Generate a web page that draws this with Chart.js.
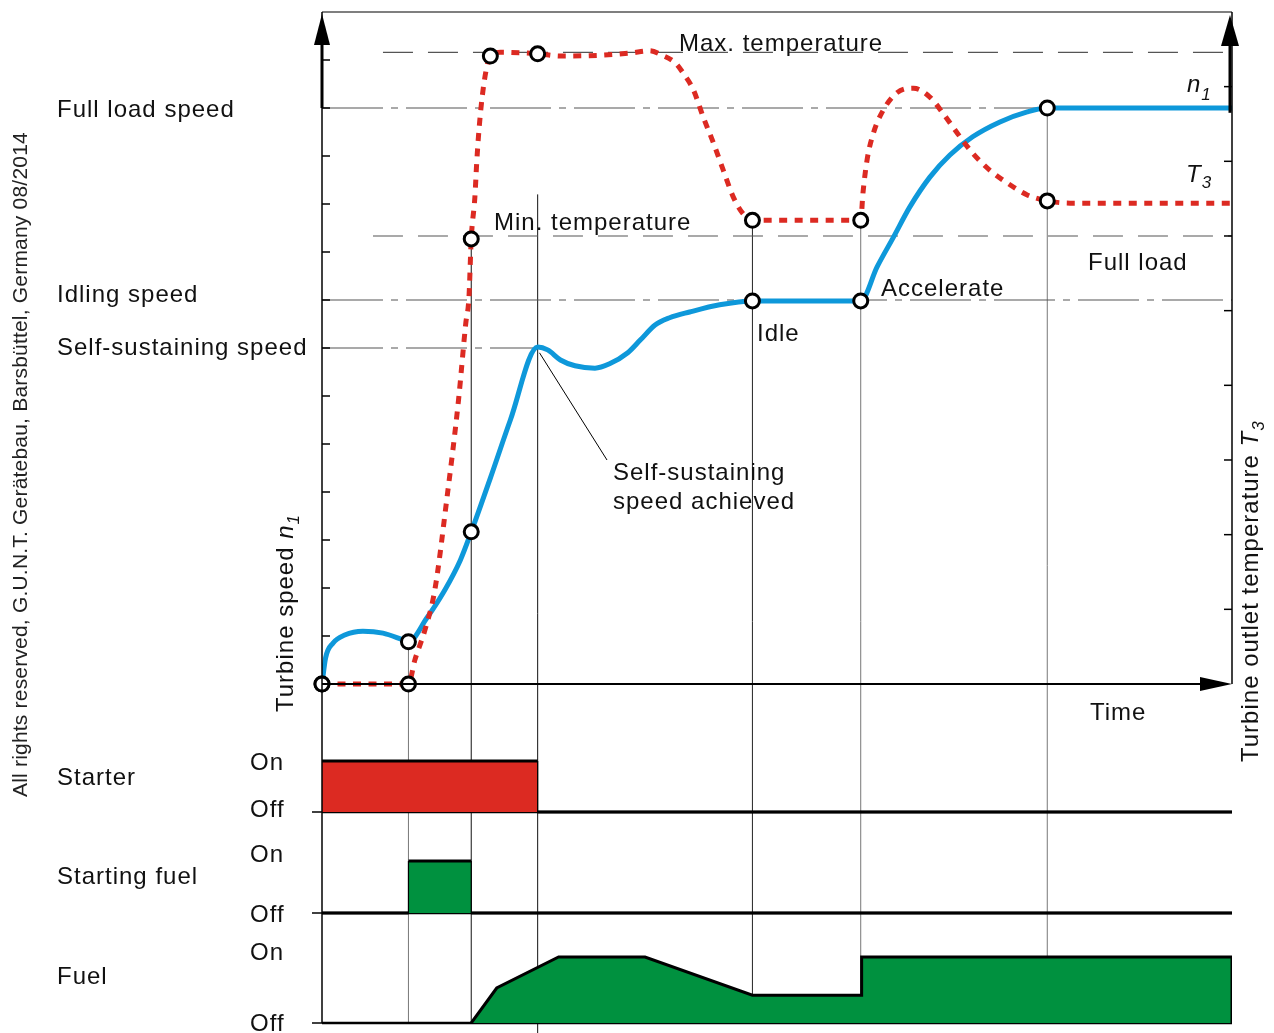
<!DOCTYPE html>
<html>
<head>
<meta charset="utf-8">
<script src="https://cdn.jsdelivr.net/npm/chart.js@4.4.1/dist/chart.umd.min.js"></script>
<style>
  html, body { margin: 0; padding: 0; background: #fff; }
  canvas { display: block; }
</style>
</head>
<body>
<canvas id="chart" width="1274" height="1033"></canvas>
<script>
// time runs 0..100 (arbitrary units), speed and temperature in tick units
const speedTime = [0, 0.4, 1.2, 2.5, 4.5, 6.7, 8.9, 9.5, 11.5, 13.5, 15.2, 16.4, 18.5, 20.7, 23.7, 24.8, 26.2, 27.8, 30.0, 31.6, 33.6, 35.0, 36.6, 38.2, 40.4, 43.7, 47.3, 59.2, 61.0, 62.8, 64.6, 66.8, 69.0, 71.5, 74.5, 77.5, 79.7, 100];
const speedValue = [0, 0.55, 0.85, 1.02, 1.10, 1.06, 0.92, 0.88, 1.37, 1.96, 2.58, 3.17, 4.29, 5.5, 7.02, 6.96, 6.75, 6.63, 6.58, 6.67, 6.90, 7.17, 7.48, 7.63, 7.75, 7.90, 7.98, 7.98, 8.69, 9.31, 9.94, 10.56, 11.02, 11.40, 11.71, 11.92, 12.0, 12.0];

const tempTime = [0, 9.5, 10.2, 11.3, 12.4, 13.7, 15.0, 15.8, 16.15, 16.4, 16.8, 17.0, 17.25, 17.6, 18.1, 18.5, 19.6, 23.7, 26.2, 30.5, 33.9, 36.0, 37.4, 38.8, 39.7, 40.8, 41.9, 43.0, 44.1, 45.2, 46.2, 47.3, 59.2, 59.45, 59.9, 60.6, 61.7, 63.2, 65.0, 66.8, 68.2, 69.8, 71.5, 73.4, 75.3, 77.5, 79.7, 82.2, 100];
const tempValue = [0, 0, 0.32, 0.72, 1.26, 2.46, 3.80, 4.83, 5.18, 5.96, 6.52, 6.98, 7.42, 7.86, 8.26, 8.41, 8.46, 8.44, 8.41, 8.42, 8.45, 8.48, 8.42, 8.32, 8.18, 7.96, 7.59, 7.25, 6.88, 6.52, 6.31, 6.21, 6.21, 6.58, 7.02, 7.38, 7.69, 7.92, 7.98, 7.86, 7.65, 7.38, 7.11, 6.88, 6.71, 6.55, 6.47, 6.44, 6.44];

const speedMarkerTimes = [0, 9.5, 16.4, 47.3, 59.2, 79.7];
const tempMarkerTimes = [0, 9.5, 16.4, 18.5, 23.7, 47.3, 59.2, 79.7];
const eventTimes = [9.5, 16.4, 23.7, 47.3, 59.2, 79.7];

const starterTime = [0, 23.7, 23.7, 100];
const starterState = [1, 1, 0, 0];
const startFuelTime = [0, 9.5, 9.5, 16.4, 16.4, 100];
const startFuelState = [0, 0, 1, 1, 0, 0];
const fuelTime = [16.4, 19.2, 26.0, 35.5, 47.3, 59.3, 59.3, 100, 100];
const fuelLevel = [0, 0.53, 1, 1, 0.42, 0.42, 1, 1, 0];

const fullLoadSpeed = 12, idlingSpeed = 8, selfSustainSpeed = 7;
const maxTemp = 8.46, minTemp = 6.0;
const speedTicks = [1, 2, 3, 4, 5, 6, 7, 8, 9, 10, 11, 12, 13];
const tempTicks = [1, 2, 3, 4, 5, 6, 7, 8];

const FONT = '"Liberation Sans", Arial, sans-serif';
const BLUE = '#0e98da', RED = '#dc2a22', GREEN = '#00913f';

const zip = (xs, ys) => xs.map((x, i) => ({ x, y: ys[i] }));
const pick = (xs, ys, keep) => zip(xs, ys).filter(p => keep.includes(p.x));

// each y scale spans the whole chart area; zero and unit size set where its band sits
const AREA_TOP = 12, AREA_BOTTOM = 1023;
function band(zeroPx, pxPerUnit) {
  const min = -(AREA_BOTTOM - zeroPx) / pxPerUnit;
  return { min, max: min + (AREA_BOTTOM - AREA_TOP) / pxPerUnit, display: false };
}

function refLine(axis, x0, x1, level, dash) {
  return {
    yAxisID: axis, data: [{ x: x0, y: level }, { x: x1, y: level }],
    borderColor: '#555', borderWidth: 1.2, borderDash: dash, pointRadius: 0, order: 9
  };
}

// thin vertical edges on the on/off boxes, heavy horizontal ones
const thinVerticals = { borderWidth: c => (c.p0.parsed.x === c.p1.parsed.x ? 1.2 : 3) };

const markerStyle = {
  showLine: false, pointRadius: 7, pointBorderWidth: 3, pointBackgroundColor: '#fff',
  pointBorderColor: '#000', borderColor: '#000', backgroundColor: '#fff', clip: false, order: 0
};

const datasets = [
  refLine('y', 0, 100, fullLoadSpeed, [61, 8, 7, 8]),
  refLine('y', 0, 100, idlingSpeed, [61, 8, 7, 8]),
  refLine('y', 0, 23.7, selfSustainSpeed, [61, 8, 7, 8]),
  refLine('yT', 6.7, 100, maxTemp, [30, 15]),
  refLine('yT', 5.6, 100, minTemp, [30, 15]),
  {
    yAxisID: 'yS', data: zip(starterTime, starterState), borderColor: '#000', borderWidth: 3,
    segment: thinVerticals, backgroundColor: RED, fill: { value: 0 }, pointRadius: 0, order: 5
  },
  {
    yAxisID: 'yF', data: zip(startFuelTime, startFuelState), borderColor: '#000', borderWidth: 3,
    segment: thinVerticals, backgroundColor: GREEN, fill: { value: 0 }, pointRadius: 0, order: 5
  },
  {
    yAxisID: 'yFu', data: zip(fuelTime, fuelLevel), borderColor: '#000', borderWidth: 3,
    backgroundColor: GREEN, fill: { value: 0 }, pointRadius: 0, order: 5
  },
  {
    yAxisID: 'y', data: zip(speedTime, speedValue), borderColor: BLUE, borderWidth: 5,
    cubicInterpolationMode: 'monotone', pointRadius: 0, borderJoinStyle: 'round', order: 2
  },
  {
    yAxisID: 'yT', data: zip(tempTime, tempValue), borderColor: RED, borderWidth: 5,
    borderDash: [8, 7.5], cubicInterpolationMode: 'monotone', pointRadius: 0, order: 1
  },
  Object.assign({ yAxisID: 'y', data: pick(speedTime, speedValue, speedMarkerTimes) }, markerStyle),
  Object.assign({ yAxisID: 'yT', data: pick(tempTime, tempValue, tempMarkerTimes) }, markerStyle)
];

function line(ctx, x0, y0, x1, y1, w, color) {
  ctx.beginPath();
  ctx.lineWidth = w;
  ctx.strokeStyle = color;
  ctx.moveTo(x0, y0);
  ctx.lineTo(x1, y1);
  ctx.stroke();
}

function tri(ctx, pts) {
  ctx.beginPath();
  ctx.moveTo(pts[0], pts[1]);
  ctx.lineTo(pts[2], pts[3]);
  ctx.lineTo(pts[4], pts[5]);
  ctx.closePath();
  ctx.fillStyle = '#000';
  ctx.fill();
}

// draws pieces one after the other; each piece: [text, size, italic, dy]
function rich(ctx, parts, x, y) {
  let cx = x;
  parts.forEach(([txt, size, italic, dy]) => {
    ctx.font = (italic ? 'italic ' : '') + size + 'px ' + FONT;
    ctx.fillText(txt, cx, y + (dy || 0));
    cx += ctx.measureText(txt).width;
  });
}

const decor = {
  id: 'decor',
  beforeDatasetsDraw(chart) {
    const ctx = chart.ctx;
    const s = chart.scales;
    const { left: L, right: R } = chart.chartArea;
    ctx.save();
    // event lines down through the switching panels
    const eventColors = ['#777', '#111', '#111', '#222', '#777', '#777'];
    eventTimes.forEach((t, i) => {
      let top = Infinity;
      if (speedMarkerTimes.includes(t)) top = Math.min(top, s.y.getPixelForValue(speedValue[speedTime.indexOf(t)]));
      if (tempMarkerTimes.includes(t)) top = Math.min(top, s.yT.getPixelForValue(tempValue[tempTime.indexOf(t)]));
      let bottom = s.yFu.getPixelForValue(0);
      if (t === 23.7) { top = s.y.getPixelForValue(10.2); bottom = chart.height; }
      const x = s.x.getPixelForValue(t);
      line(ctx, x, top, x, bottom, 1, eventColors[i]);
    });
    // Off baselines
    ['yS', 'yF', 'yFu'].forEach(id => {
      const y = s[id].getPixelForValue(0);
      line(ctx, L - 10, y, L, y, 1.5, '#000');
      line(ctx, L, y, R, y, 2.5, '#000');
    });
    ctx.restore();
  },
  afterDatasetsDraw(chart) {
    const ctx = chart.ctx;
    const s = chart.scales;
    const { left: L, right: R, top: T, bottom: B } = chart.chartArea;
    const y0 = s.y.getPixelForValue(0);
    ctx.save();

    // frame and axes
    line(ctx, L, T, R, T, 1.2, '#000');
    line(ctx, L, T, L, B, 1.5, '#000');
    line(ctx, R, T, R, y0, 1.5, '#000');
    speedTicks.forEach(v => {
      const y = s.y.getPixelForValue(v);
      line(ctx, L, y, L + 8, y, 1.5, '#000');
    });
    tempTicks.forEach(v => {
      const y = s.yT.getPixelForValue(v);
      line(ctx, R - 8, y, R, y, 1.5, '#000');
    });

    // arrows
    line(ctx, L, s.y.getPixelForValue(fullLoadSpeed), L, T + 30, 3, '#000');
    tri(ctx, [L, T + 2, L - 8, T + 33, L + 8, T + 33]);
    line(ctx, R - 2, s.y.getPixelForValue(11.9), R - 2, T + 30, 3, '#000');
    tri(ctx, [R - 2, T + 3, R - 11, T + 34, R + 7, T + 34]);
    line(ctx, L, y0, R - 28, y0, 2, '#000');
    tri(ctx, [R, y0, R - 32, y0 - 7, R - 32, y0 + 7]);

    // leader for "Self-sustaining speed achieved"
    line(ctx, s.x.getPixelForValue(23.9), s.y.getPixelForValue(6.9), 607, 460, 1, '#000');

    // labels
    ctx.fillStyle = '#111';
    ctx.textBaseline = 'alphabetic';
    ctx.textAlign = 'left';
    ctx.letterSpacing = '1px';
    ctx.font = '24px ' + FONT;
    const labels = [
      ['Full load speed', 57, 117], ['Idling speed', 57, 302], ['Self-sustaining speed', 57, 355],
      ['Starter', 57, 785], ['Starting fuel', 57, 884], ['Fuel', 57, 984],
      ['On', 250, 770], ['Off', 250, 817], ['On', 250, 862], ['Off', 250, 922],
      ['On', 250, 960], ['Off', 250, 1031],
      ['Max. temperature', 679, 51], ['Min. temperature', 494, 230],
      ['Idle', 757, 341], ['Accelerate', 881, 296], ['Full load', 1088, 270],
      ['Self-sustaining', 613, 480], ['speed achieved', 613, 509], ['Time', 1090, 720]
    ];
    labels.forEach(([txt, x, y]) => ctx.fillText(txt, x, y));

    rich(ctx, [['n', 24, true], ['1', 17, true, 8]], 1187, 92);
    rich(ctx, [['T', 24, true], ['3', 17, true, 6]], 1186, 182);

    // rotated axis titles
    ctx.save();
    ctx.translate(293, 712);
    ctx.rotate(-Math.PI / 2);
    rich(ctx, [['Turbine speed ', 24, false], ['n', 24, true], ['1', 17, true, 6]], 0, 0);
    ctx.restore();

    ctx.save();
    ctx.translate(1258, 762);
    ctx.rotate(-Math.PI / 2);
    rich(ctx, [['Turbine outlet temperature ', 24, false], ['T', 24, true], ['3', 17, true, 6]], 0, 0);
    ctx.restore();

    ctx.save();
    ctx.translate(27, 797);
    ctx.rotate(-Math.PI / 2);
    ctx.letterSpacing = '0.2px';
    ctx.fillStyle = '#222';
    ctx.font = '21px ' + FONT;
    ctx.fillText('All rights reserved, G.U.N.T. Gerätebau, Barsbüttel, Germany 08/2014', 0, 0);
    ctx.restore();

    ctx.restore();
  }
};

new Chart(document.getElementById('chart'), {
  type: 'line',
  data: { datasets },
  options: {
    responsive: false,
    animation: false,
    devicePixelRatio: 1,
    layout: { padding: { left: 322, right: 42, top: 12, bottom: 10 } },
    plugins: { legend: { display: false }, tooltip: { enabled: false } },
    elements: { line: { tension: 0 } },
    scales: {
      x: { type: 'linear', min: 0, max: 100, display: false },
      y: band(684, 48),
      yT: band(684, 74.67),
      yS: band(812, 51),
      yF: band(913, 52),
      yFu: band(1023, 66)
    }
  },
  plugins: [decor]
});
</script>
</body>
</html>
